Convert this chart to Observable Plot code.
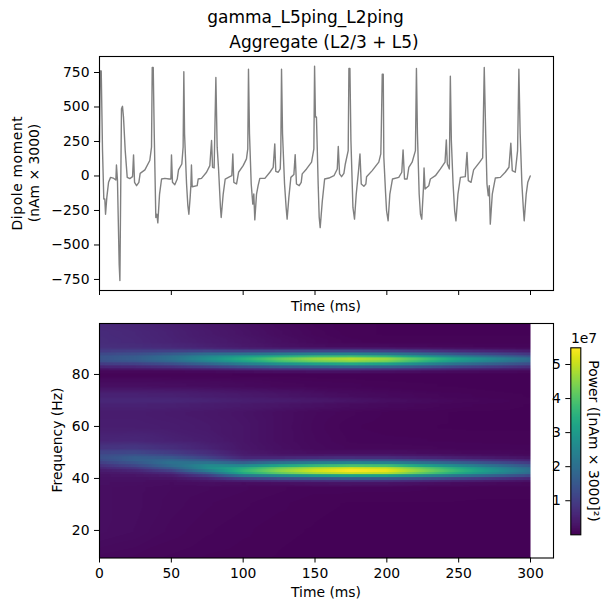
<!DOCTYPE html>
<html><head><meta charset="utf-8">
<script src="https://cdn.jsdelivr.net/npm/d3@7"></script>
<script src="https://cdn.jsdelivr.net/npm/@observablehq/plot@0.6"></script>
<style>
html,body{margin:0;padding:0;background:#fff;}
#fig{position:relative;width:611px;height:611px;overflow:hidden;font-family:"DejaVu Sans",sans-serif;color:#000;}
.t{position:absolute;white-space:nowrap;line-height:1.2;text-align:center;transform:translate(-50%,-50%);}
</style></head><body><div id="fig"></div>
<script>
const dipoleTime = [0,0.5,1.2,2.1,3.0,3.7,4.2,5.1,6.3,7.7,9.5,11.4,11.8,12.5,13.7,14.2,14.8,15.3,16.0,16.7,17.9,19.3,21.1,23.0,23.7,24.4,25.8,27.4,28.3,31.6,35.0,36.2,36.7,37.4,38.1,39.2,39.9,40.6,41.8,43.2,45.5,48.5,49.7,50.1,50.8,52.4,54.1,55.0,57.3,58.2,58.7,59.2,60.6,61.5,62.2,63.1,63.6,64.0,64.5,68.0,68.7,71.0,74.5,76.8,78.0,78.7,79.8,81.0,81.9,82.8,84.2,84.7,86.1,87.5,90.7,92.1,92.8,93.5,95.4,96.8,100.0,102.3,103.2,103.7,104.4,105.6,106.7,107.4,108.1,109.3,110.4,111.6,115.1,118.6,120.9,122.0,122.7,124.4,125.8,126.2,126.7,127.4,128.8,129.9,130.6,131.8,133.2,135.3,136.2,137.1,139.0,140.4,141.1,144.1,147.6,149.2,149.7,150.3,151.0,152.2,152.9,153.6,155.1,156.7,159.7,163.2,165.5,166.2,167.1,168.5,170.1,171.1,173.1,173.6,174.3,175.0,176.4,177.5,178.7,180.3,181.3,182.2,184.0,185.4,185.9,189.8,194.4,195.8,196.1,196.8,197.5,197.9,199.1,199.8,200.9,202.1,203.9,208.3,210.4,211.3,212.3,214.1,215.3,217.6,219.9,220.6,221.3,222.5,223.4,224.3,225.5,225.9,226.6,229.2,230.3,233.8,237.3,240.5,241.4,242.1,243.5,244.2,244.9,246.1,247.2,248.1,249.5,251.2,254.6,255.8,256.7,258.6,260.4,264.6,266.7,267.8,268.8,269.7,270.6,271.3,272.0,273.4,275.5,279.0,282.4,285.0,286.3,287.3,289.4,291.0,291.9,292.8,294.0,295.1,295.6,297.0,298.1,299.8];
const dipoleValue = [245,762,762,184,-167,-167,-277,-155,-46,-10,-15,-29,80,-29,-641,-757,-58,488,505,427,184,-10,-19,-5,153,-46,-70,-46,19,44,112,209,786,786,306,-301,-277,-340,-131,-22,-17,-22,-22,153,-46,-63,-22,44,87,209,755,306,-58,-216,-277,-155,-70,80,-78,-70,-22,-17,27,75,257,63,58,714,209,63,-228,-301,-131,-22,-5,2,160,-46,-58,27,75,124,197,774,306,-58,-204,-131,-318,-131,-70,-17,-17,27,63,233,34,27,51,184,774,306,-58,-228,-313,-155,-10,10,155,-58,-70,-46,15,51,100,197,796,427,427,-58,-296,-374,-180,-22,-15,2,51,214,15,-5,19,87,184,779,779,257,-228,-313,-131,39,160,-58,-75,-58,-5,39,100,160,306,738,738,136,-119,-252,-325,-131,-22,-10,27,189,-22,-22,63,100,184,779,306,-131,-277,-313,-83,58,-95,-70,-22,2,51,100,262,87,51,723,257,-58,-252,-325,-131,-10,-5,170,-34,-46,44,100,131,786,306,-58,-143,-70,-349,-131,-15,-10,27,63,238,39,27,184,774,306,-58,-252,-325,-131,-46,0];

const specTimes = [0,25,50,75,100,125,150,175,200,250,300];
const specFreqs = [9,20,30,36,38,39,40,41,42,43,44,45,46,47,48,49,50,52,55,60,65,68,70,72,76,80,81,82,83,84,85,86,87,88,89,90,91,93,96,100];
const specPower = [
[.12,.10,.08,.06,.05,.04,.03,.03,.03,.03,.03],
[.2,.17,.12,.09,.07,.05,.04,.03,.03,.03,.03],
[.2,.18,.14,.11,.09,.07,.05,.04,.04,.04,.04],
[.2,.18,.15,.13,.11,.09,.07,.07,.07,.06,.05],
[.22,.2,.17,.2,.17,.2,.25,.27,.26,.16,.1],
[.22,.22,.2,.3,.43,.54,.61,.65,.64,.43,.24],
[.24,.25,.27,.5,1.0,1.26,1.43,1.53,1.48,1.0,.56],
[.27,.3,.4,.95,2.09,2.61,2.96,3.16,3.07,2.09,1.16],
[.32,.4,.65,1.6,3.31,4.14,4.69,5.01,4.88,3.31,1.84],
[.4,.55,1.05,2.3,3.6,4.5,5.1,5.45,5.3,3.6,2.0],
[.55,.8,1.5,2.7,3.42,4.28,4.85,5.18,5.04,3.42,1.9],
[.75,1.15,1.9,2.6,2.59,3.24,3.67,3.92,3.82,2.59,1.44],
[1.0,1.45,2.05,2.1,1.66,2.07,2.35,2.51,2.44,1.66,.92],
[1.2,1.65,1.85,1.55,1.05,1.22,1.38,1.47,1.43,.97,.54],
[1.3,1.6,1.5,1.1,.6,.59,.66,.71,.69,.47,.26],
[1.25,1.4,1.2,.85,.45,.36,.36,.38,.37,.25,.14],
[1.1,1.15,.95,.7,.38,.26,.2,.2,.2,.13,.1],
[.8,.85,.7,.52,.32,.22,.14,.1,.1,.08,.07],
[.55,.58,.5,.42,.3,.2,.13,.08,.07,.06,.05],
[.45,.45,.42,.37,.3,.2,.12,.07,.05,.04,.04],
[.42,.42,.38,.34,.28,.2,.13,.09,.06,.04,.03],
[.5,.5,.48,.42,.36,.3,.23,.17,.13,.07,.04],
[.6,.6,.58,.52,.45,.4,.34,.27,.2,.1,.05],
[.5,.5,.48,.42,.36,.3,.23,.17,.13,.07,.04],
[.2,.2,.18,.16,.13,.1,.08,.07,.05,.04,.03],
[.05,.05,.05,.05,.04,.04,.03,.03,.03,.03,.03],
[.1,.1,.1,.12,.16,.2,.22,.22,.2,.14,.1],
[.25,.28,.32,.4,.55,.65,.7,.75,.7,.45,.3],
[.55,.6,.75,1.0,1.3,1.55,1.7,1.8,1.7,1.1,.7],
[.95,1.05,1.3,1.75,2.3,2.75,3.1,3.3,3.1,2.0,1.25],
[1.3,1.45,1.8,2.4,3.1,3.8,4.25,4.5,4.3,2.85,1.75],
[1.4,1.6,2.0,2.7,3.4,4.1,4.6,4.85,4.6,3.1,1.9],
[1.4,1.55,1.95,2.5,3.0,3.4,3.75,3.85,3.6,2.35,1.4],
[1.2,1.3,1.55,1.9,2.0,2.2,2.35,2.4,2.2,1.4,.85],
[.95,1.0,1.05,1.1,1.05,1.1,1.15,1.15,1.05,.65,.4],
[.8,.78,.72,.62,.5,.45,.42,.42,.38,.25,.15],
[.72,.68,.6,.48,.36,.26,.18,.15,.13,.09,.07],
[.68,.62,.52,.42,.32,.22,.13,.07,.05,.05,.05],
[.66,.6,.5,.38,.28,.18,.1,.05,.04,.04,.04],
[.6,.55,.45,.34,.25,.15,.08,.05,.04,.04,.04]
];
const timeTicks = [0,50,100,150,200,250,300];
const dipoleTicks = [-750,-500,-250,0,250,500,750];
const freqTicks = [20,40,60,80];
const powerTicks = [1,2,3,4,5];
const powerMax = 5.49;

const fig = document.getElementById("fig");
const baseStyle = {fontFamily:"'DejaVu Sans',sans-serif",fontSize:"13.9px",color:"#000",background:"transparent",overflow:"visible",position:"absolute"};
const addLabel = (txt,x,y,size,rot) => {
  const d = document.createElement("div");
  d.className = "t"; d.innerHTML = txt;
  d.style.left = x+"px"; d.style.top = y+"px"; d.style.fontSize = size+"px";
  if (rot) d.style.transform = `translate(-50%,-50%) rotate(${rot}deg)`;
  fig.appendChild(d);
};

const dipole = dipoleTime.map((t,i)=>({t,v:dipoleValue[i]}));
const dipolePlot = Plot.plot({
  width:611,height:318,marginLeft:99,marginRight:58,marginTop:56,marginBottom:28,
  style:{...baseStyle,left:"0px",top:"0px"},
  x:{domain:[0,316]},y:{domain:[-830,866]},
  marks:[
    Plot.line(dipole,{x:"t",y:"v",stroke:"#808080",strokeWidth:1.4}),
    Plot.axisX({ticks:timeTicks,tickSize:5,tickFormat:()=>"",label:null}),
    Plot.axisY({ticks:dipoleTicks,tickSize:5,tickPadding:5,label:null}),
    Plot.frame({stroke:"#000",strokeWidth:1.1})
  ]
});
fig.appendChild(dipolePlot);

// each frequency row is a 1 Hz bin: its value holds across the bin
const cells = specFreqs.flatMap((f,r)=>specTimes.flatMap((t,c)=>[
  {t,f:f-0.49,p:specPower[r][c]},
  {t,f:f+0.49,p:specPower[r][c]}
]));
const specPlot = Plot.plot({
  width:565,height:293,marginLeft:99,marginRight:12,marginTop:5,marginBottom:53.5,
  style:{...baseStyle,left:"0px",top:"318px"},
  x:{domain:[0,316]},y:{domain:[9.4,99.6]},
  color:{type:"linear",scheme:"viridis",domain:[0,powerMax]},
  marks:[
    Plot.raster(cells,{x:"t",y:"f",fill:"p",x1:0,x2:300,y1:9.4,y2:99.6,interpolate:"barycentric",pixelSize:1}),
    Plot.axisX({ticks:timeTicks,tickSize:5,tickPadding:5,label:null}),
    Plot.axisY({ticks:freqTicks,tickSize:5,tickPadding:5,label:null}),
    Plot.frame({stroke:"#000",strokeWidth:1.1})
  ]
});
fig.appendChild(specPlot);

const barPlot = Plot.plot({
  width:56,height:210,marginLeft:15.3,marginRight:30.7,marginTop:17.3,marginBottom:5.7,
  style:{...baseStyle,left:"555px",top:"330px"},
  x:{domain:[0,1],axis:null},y:{domain:[0,powerMax]},
  color:{type:"linear",scheme:"viridis",domain:[0,powerMax]},
  marks:[
    Plot.raster({fill:(x,y)=>y,x1:0,x2:1,y1:0,y2:powerMax,pixelSize:1}),
    Plot.axisY({ticks:powerTicks,tickFormat:"d",tickSize:5,tickPadding:5,label:null}),
    Plot.frame({stroke:"#000",strokeWidth:1.1})
  ]
});
fig.appendChild(barPlot);

addLabel("gamma_L5ping_L2ping",305.5,17,17);
addLabel("Aggregate (L2/3 + L5)",324,42,17);
addLabel('<span style="letter-spacing:.6px">Dipole moment</span><br>(nAm × 3000)',26,172.5,13.9,-90);
addLabel("Time (ms)",326,306,13.9);
addLabel("Frequency (Hz)",57,440,13.9,-90);
addLabel("Time (ms)",326,592,13.9);
addLabel("1e7",584,338,13.9);
addLabel("Power ([nAm × 3000]²)",594,441,13.9,90);
</script></body></html>
